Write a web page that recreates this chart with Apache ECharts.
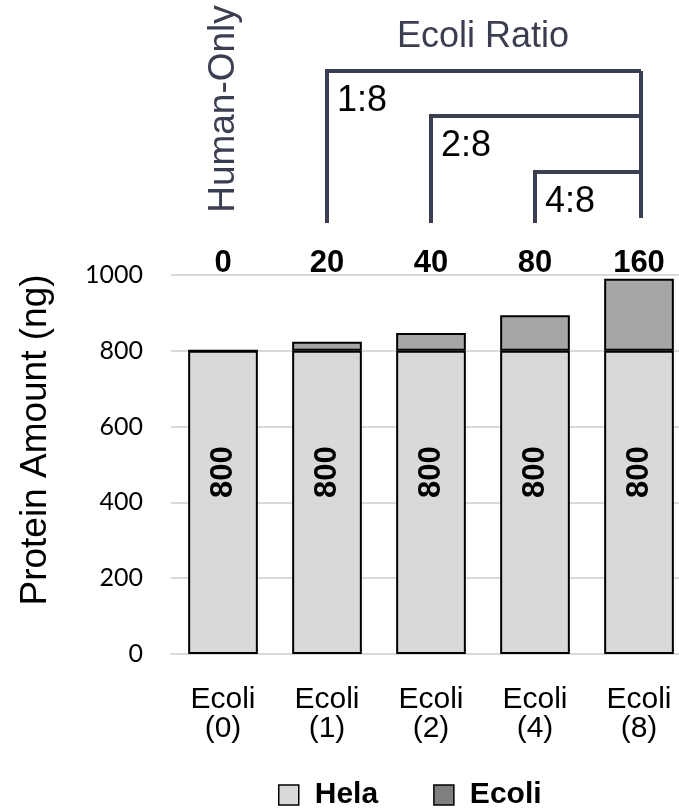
<!DOCTYPE html>
<html><head><meta charset="utf-8">
<script src="https://cdn.jsdelivr.net/npm/echarts@6/dist/echarts.min.js"></script>
<style>html,body{margin:0;padding:0;background:#fff}#c{width:679px;height:808px}</style>
</head><body><div id="c"></div>
<script>
// ---- data ----
const categories = ['Ecoli\n(0)', 'Ecoli\n(1)', 'Ecoli\n(2)', 'Ecoli\n(4)', 'Ecoli\n(8)'];
const helaValues = [800, 800, 800, 800, 800];
const ecoliValues = [0, 24, 47, 94, 190];
const topLabels = ['0', '20', '40', '80', '160'];
const ratioLabels = ['1:8', '2:8', '4:8'];
const yMin = 0, yMax = 1000, yInterval = 200;
const seriesNames = ['Hela', 'Ecoli'];

const ARIAL = '"Liberation Sans", Arial, sans-serif';
const INK = '#3b3e50';

const chart = echarts.init(document.getElementById('c'), null, {renderer: 'canvas'});
chart.setOption({
  animation: false,
  backgroundColor: '#ffffff',
  grid: {left: 171, width: 520, top: 275, height: 379, outerBoundsMode: 'none', containLabel: false},
  legend: {
    left: 278, top: 780, icon: 'rect', padding: 0,
    itemWidth: 20, itemHeight: 20, itemGap: 55,
    textStyle: {fontFamily: ARIAL, fontWeight: 'bold', fontSize: 30, color: '#000', padding: [0, 0, 0, 11]},
    data: [
      {name: seriesNames[0], itemStyle: {color: '#d9d9d9', borderColor: '#000', borderWidth: 1.5}},
      {name: seriesNames[1], itemStyle: {color: '#7f7f7f', borderColor: '#000', borderWidth: 1.5}}
    ]
  },
  xAxis: [
    {
      type: 'category', data: categories, position: 'bottom',
      axisLine: {show: true, lineStyle: {color: '#d9d9d9', width: 2}},
      axisTick: {show: false},
      axisLabel: {fontFamily: ARIAL, fontSize: 30, color: '#000', lineHeight: 29, margin: 31}
    },
    {
      type: 'category', data: topLabels, position: 'top',
      axisLine: {show: false}, axisTick: {show: false},
      axisLabel: {fontFamily: ARIAL, fontWeight: 'bold', fontSize: 31, color: '#000', margin: -4}
    }
  ],
  yAxis: {
    type: 'value', min: yMin, max: yMax, interval: yInterval,
    axisLine: {show: false}, axisTick: {show: false},
    splitLine: {lineStyle: {color: '#d9d9d9', width: 2}},
    axisLabel: {fontFamily: 'Lato, "Open Sans", sans-serif', fontSize: 25, color: '#000', margin: 28,
      formatter: v => String(v)}
  },
  series: [
    {
      name: seriesNames[0], type: 'bar', stack: 'total', data: helaValues, barWidth: '67%',
      itemStyle: {color: '#d9d9d9', borderColor: '#000', borderWidth: 2},
      label: {
        show: true, position: ['50%', '40%'], rotate: 90, align: 'center', verticalAlign: 'middle',
        fontFamily: ARIAL, fontWeight: 'bold', fontSize: 31, color: '#000'
      }
    },
    {
      name: seriesNames[1], type: 'bar', stack: 'total', data: ecoliValues, barWidth: '67%',
      itemStyle: {color: '#a6a6a6', borderColor: '#000', borderWidth: 2}
    }
  ]
});

// ---- annotation brackets, positioned from the category axis ----
const px = i => chart.convertToPixel({xAxisIndex: 0}, i);
const bracketTops = [71, 116, 172];
const rightX = px(4) + 2;
const graphics = [];
for (let k = 0; k < 3; k++) {
  const lx = px(k + 1);
  const ty = bracketTops[k];
  graphics.push({
    type: 'polyline',
    shape: {points: [[lx, 223], [lx, ty], [rightX, ty]]},
    style: {stroke: INK, lineWidth: 4, fill: null}
  });
  graphics.push({
    type: 'text', x: lx + 10, y: ty + 30,
    style: {text: ratioLabels[k], font: '36px ' + ARIAL, fill: '#000', align: 'left', verticalAlign: 'middle'}
  });
}
graphics.push({
  type: 'line', shape: {x1: rightX, y1: bracketTops[0], x2: rightX, y2: 218},
  style: {stroke: INK, lineWidth: 4}
});
graphics.push({
  type: 'text', x: (px(1) + px(4)) / 2, y: 37,
  style: {text: 'Ecoli Ratio', font: '36px ' + ARIAL, fill: INK, align: 'center', verticalAlign: 'middle'}
});
graphics.push({
  type: 'text', x: px(0) + 1, y: 109, rotation: Math.PI / 2,
  style: {text: 'Human-Only', font: '37px ' + ARIAL, fill: INK, align: 'center', verticalAlign: 'middle'}
});
graphics.push({
  type: 'text', x: 36, y: 440, rotation: Math.PI / 2,
  style: {text: 'Protein Amount (ng)', font: '37px ' + ARIAL, fill: '#000', align: 'center', verticalAlign: 'middle'}
});
chart.setOption({graphic: graphics});
</script>
</body></html>
